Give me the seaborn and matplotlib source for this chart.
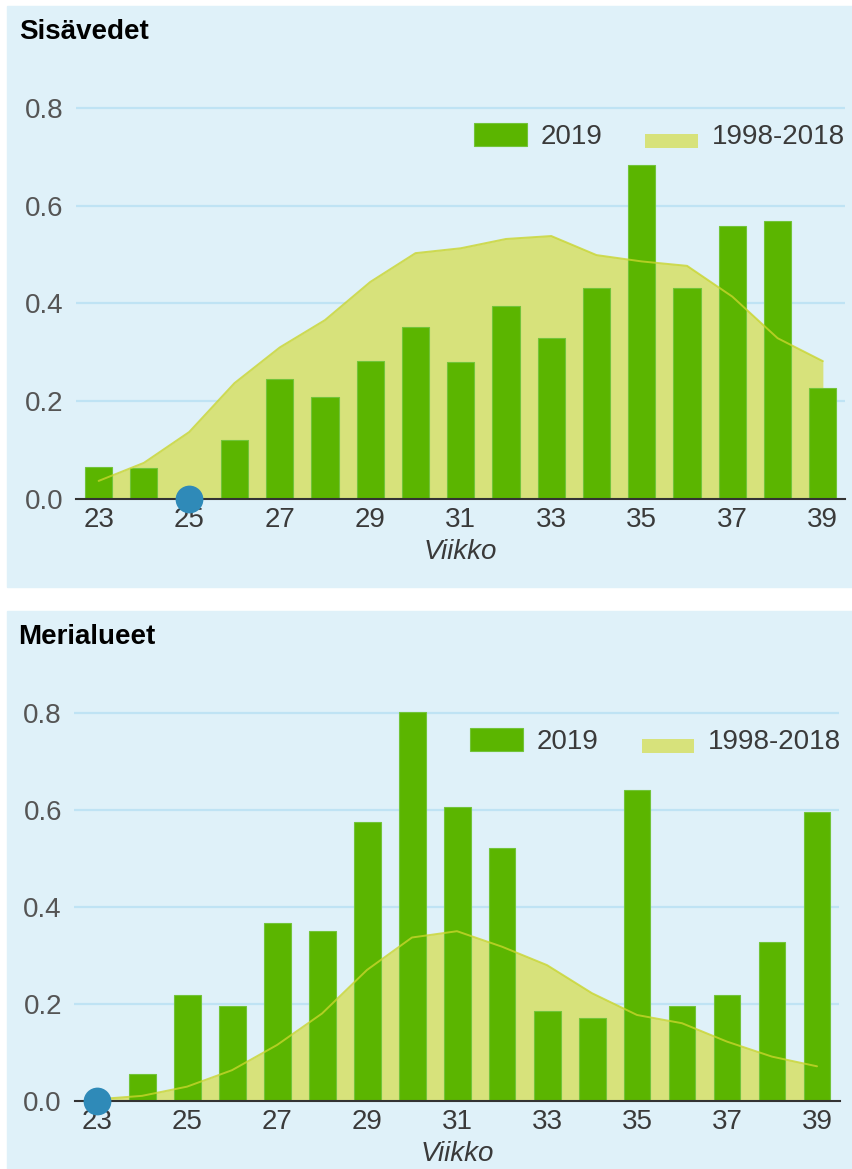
import numpy as np
import pandas as pd
import matplotlib
matplotlib.use("Agg")
import matplotlib.pyplot as plt
from matplotlib.patches import Rectangle
from matplotlib.legend_handler import HandlerPatch
import seaborn as sns

# ── data ────────────────────────────────────────────
weeks = list(range(23, 40))

inland_2019 = [0.065, 0.063, 0.0, 0.121, 0.245, 0.209, 0.282, 0.352, 0.281,
               0.395, 0.329, 0.432, 0.683, 0.432, 0.559, 0.569, 0.228]
inland_avg = [0.037, 0.074, 0.137, 0.237, 0.310, 0.366, 0.444, 0.503, 0.513,
              0.532, 0.538, 0.499, 0.486, 0.477, 0.414, 0.329, 0.282]

sea_2019 = [0.0, 0.055, 0.218, 0.196, 0.366, 0.351, 0.575, 0.802, 0.607,
            0.521, 0.186, 0.170, 0.642, 0.196, 0.218, 0.328, 0.597]
sea_avg = [0.003, 0.010, 0.029, 0.063, 0.115, 0.180, 0.270, 0.337, 0.350,
           0.318, 0.280, 0.222, 0.177, 0.160, 0.122, 0.091, 0.071]

titles = ["Sisävedet", "Merialueet"]
marker_weeks = [25, 23]
xticks = list(range(23, 40, 2))
yticks = [0.0, 0.2, 0.4, 0.6, 0.8]
label_bar = "2019"
label_area = "1998-2018"
xlabel = "Viikko"

# ── style ───────────────────────────────────────────
BG = "#dff1f9"
BAR = "#5bb500"
AREA = "#d7e27b"
LINE = "#c9d52c"
GRID = "#bfe3f4"
DOT = "#2f8ab8"
TXT = "#3a3a3a"
FS = 20

sns.set_theme(style="white")
plt.rcParams["font.family"] = ["Liberation Sans", "DejaVu Sans"]

fig = plt.figure(figsize=(8.53, 11.69), dpi=100)
W, H = 853, 1169

def fx(px):
    return px / W

def fy(py):
    return 1 - py / H

# panel backgrounds
fig.patches.append(Rectangle((fx(7), fy(586.7)), fx(846), (586.7 - 6) / H,
                             transform=fig.transFigure, color=BG, zorder=-5))
fig.patches.append(Rectangle((fx(7), fy(1169)), fx(846), (1169 - 611) / H,
                             transform=fig.transFigure, color=BG, zorder=-5))

# axes rectangles (left, bottom-px, top-px, right)
boxes = [(76, 499.0, 88.4, 845.5), (74.5, 1100.7, 693.9, 839.5)]
title_pos = [(19, 39), (18, 644)]


def area_patch(legend, orig_handle, xdescent, ydescent, width, height, fontsize):
    return Rectangle((-xdescent, -ydescent - 0.1 * height), width, 0.6 * height)


for i, (bars, avg) in enumerate([(inland_2019, inland_avg), (sea_2019, sea_avg)]):
    l, b, t, r = boxes[i]
    ax = fig.add_axes([fx(l), fy(b), fx(r - l), (b - t) / H])
    ax.set_facecolor("none")
    ax.set_zorder(2)

    df = pd.DataFrame({"week": weeks, "v2019": bars, "avg": avg})

    ax.fill_between(df["week"], 0, df["avg"], color=AREA, lw=0, zorder=1)
    sns.barplot(data=df, x="week", y="v2019", native_scale=True, width=0.6,
                color=BAR, saturation=1, edgecolor="#72c43a", linewidth=0.8,
                ax=ax, zorder=2)
    sns.lineplot(data=df, x="week", y="avg", color=LINE, lw=1.4, alpha=0.8,
                 ax=ax, zorder=3)
    mk = df[df["week"] == marker_weeks[i]]
    ax.scatter(mk["week"], mk["v2019"], s=400, color=DOT, zorder=5,
               clip_on=False, linewidths=0)

    ax.set_xlim(22.5, 39.5)
    ax.set_ylim(0, 0.84)
    ax.set_xticks(xticks)
    ax.set_yticks(yticks)
    ax.set_yticklabels([f"{v:.1f}" for v in yticks])
    ax.tick_params(length=0, labelsize=FS, colors=TXT, pad=6)
    ax.tick_params(axis="y", pad=9, labelcolor="#555555")
    for y in yticks[1:]:
        ax.axhline(y, color=GRID, lw=1.6, zorder=0)
    for s in ["left", "right", "top"]:
        ax.spines[s].set_visible(False)
    ax.spines["bottom"].set_color("#333333")
    ax.spines["bottom"].set_linewidth(1.5)
    ax.spines["bottom"].set_zorder(4)
    ax.set_xlabel(xlabel, fontsize=FS, style="italic", color=TXT, labelpad=4)
    ax.set_ylabel("")

    h_bar = Rectangle((0, 0), 1, 1, facecolor=BAR, edgecolor="#72c43a", lw=0.8)
    h_area = Rectangle((0, 0), 1, 1, facecolor=AREA, lw=0)
    ax.legend([h_bar, h_area], [label_bar, label_area], ncol=2, frameon=False,
              loc="center left", bbox_to_anchor=(0.517, 0.883), borderpad=0,
              borderaxespad=0, fontsize=FS, handlelength=1.9, handleheight=0.9,
              handletextpad=0.5, columnspacing=1.55, labelcolor=TXT,
              handler_map={h_area: HandlerPatch(patch_func=area_patch)})

    tx, ty = title_pos[i]
    fig.text(fx(tx), fy(ty), titles[i], fontsize=20, fontweight="bold",
             color="black", va="baseline", ha="left")

fig.savefig("out.png", dpi=100, facecolor="white")
